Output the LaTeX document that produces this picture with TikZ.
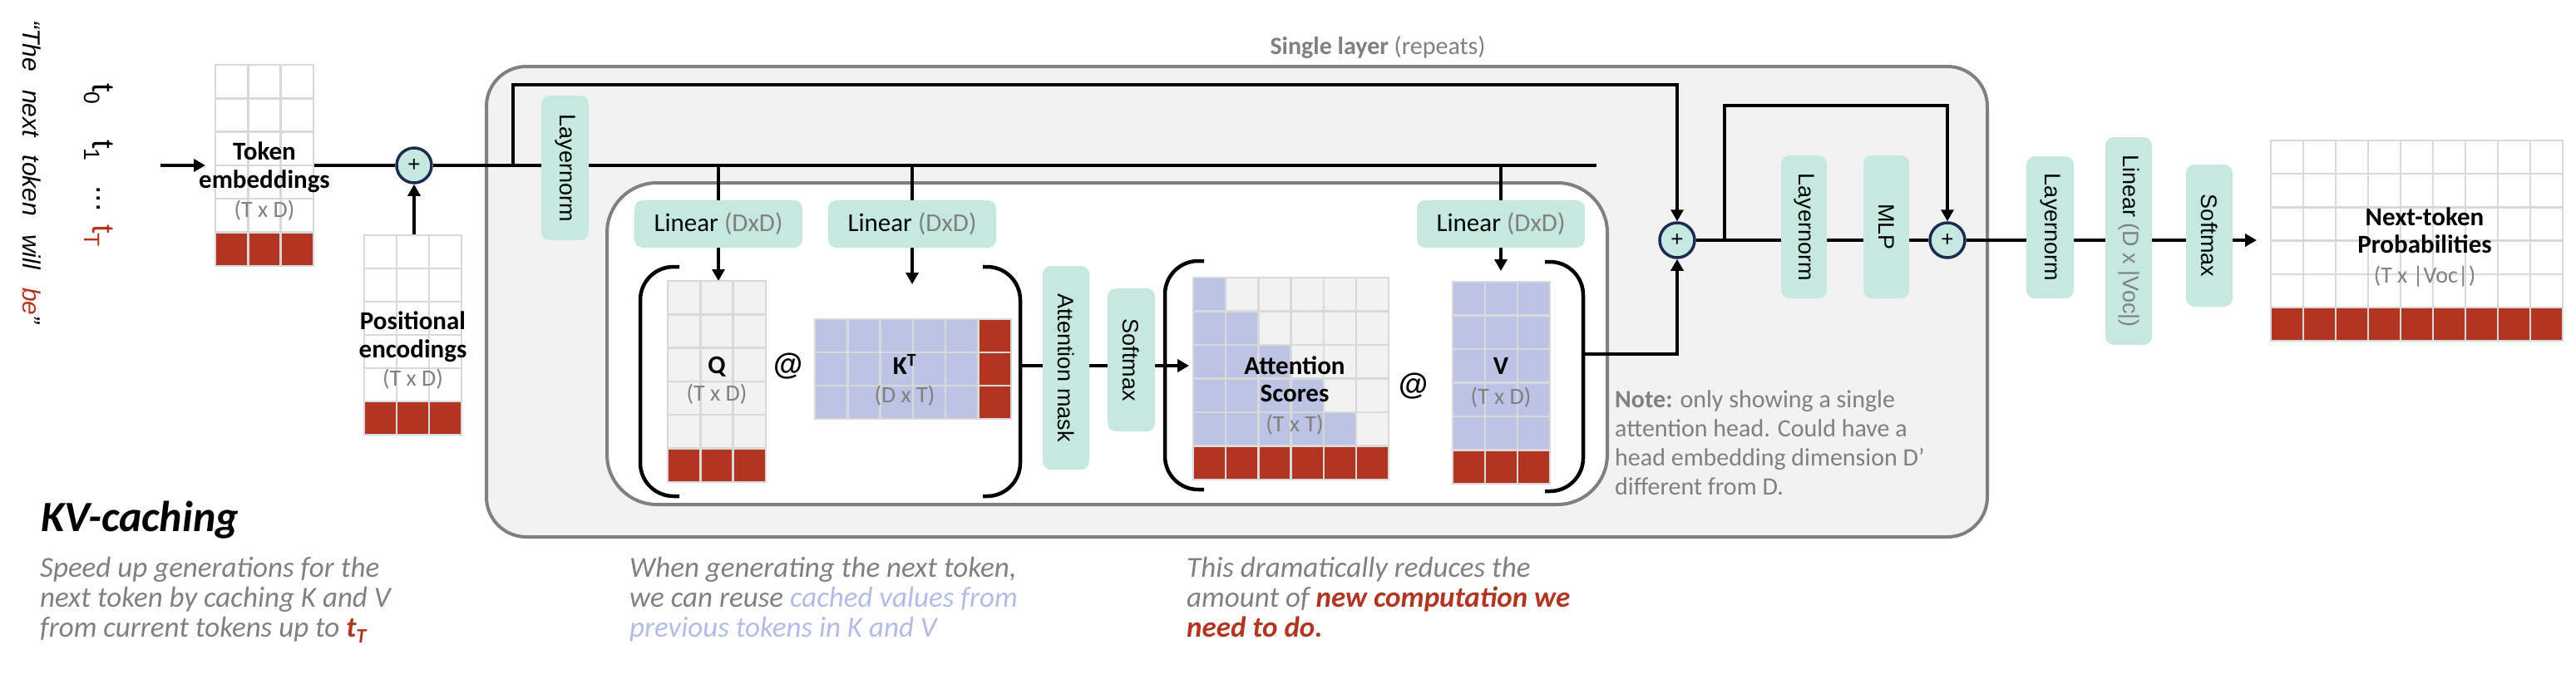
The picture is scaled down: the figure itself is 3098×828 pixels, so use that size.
\documentclass[tikz,border=0pt]{standalone}
\usepackage{fontspec}
\usepackage{graphicx}
\setmainfont{Carlito}
\newfontfamily\arialf{Liberation Sans}
\usetikzlibrary{arrows.meta}
\definecolor{mint}{HTML}{C6E9DF}
\definecolor{lav}{HTML}{BCC3E4}
\definecolor{mred}{HTML}{B23522}
\definecolor{gridc}{HTML}{D9D9D9}
\definecolor{lgray}{HTML}{F2F2F2}
\definecolor{bgray}{HTML}{808080}
\definecolor{navy}{HTML}{1C2B4F}
\definecolor{lavtext}{HTML}{B4BCE6}
\pgfdeclarelayer{bg}\pgfdeclarelayer{lines}
\pgfsetlayers{bg,lines,main}
\newcommand\setfs[2]{\fontsize{#1}{#2}\selectfont}
% x0,y0,ncols,nrows,cw,ch,basecolor ; last row red
\newcommand\drawmat[7]{%
 \foreach \ci in {1,...,#3}{\foreach \ri in {1,...,#4}{%
  \ifnum\ri=#4\relax\def\cellc{mred}\else\def\cellc{#7}\fi
  \filldraw[fill=\cellc,draw=gridc,line width=2.5pt] ({#1+(\ci-1)*#5},{#2+(\ri-1)*#6}) rectangle ++(#5,#6);
 }}}
\begin{document}
\begin{tikzpicture}[x=1pt,y=-1pt,
  conn/.style={line width=4pt},
  arr/.style={line width=4pt,-{Triangle[length=14pt,width=15pt]}},
  box/.style={fill=mint,rounded corners=10pt,inner sep=0pt},
  vbox/.style={box,minimum width=57pt,minimum height=#1,font=\arialf\setfs{27}{30}},
  hbox/.style={box,minimum width=202pt,minimum height=57pt,font=\setfs{31}{34}},
  plus/.style={circle,fill=mint,draw=navy,line width=3.5pt,minimum size=42pt,inner sep=0pt,font=\arialf\setfs{26}{26}},
  matn/.style={inner sep=0pt,outer sep=0pt},
  mlab/.style={anchor=base,font=\setfs{31}{34}\bfseries,inner sep=0pt},
  dlab/.style={anchor=base,font=\setfs{28}{32},text=bgray,inner sep=0pt},
  brk/.style={line width=4.5pt,rounded corners=40pt},
  tt/.style={anchor=north,inner sep=0pt,font=\arialf\setfs{38}{38}},
]
\useasboundingbox (0,0) rectangle (3098,828);

% ---------- region boxes ----------
\begin{pgfonlayer}{bg}
\node[matn,draw=bgray,fill=lgray,line width=4pt,rounded corners=48pt,minimum width=1805pt,minimum height=566pt] (layer) at (1487.5,363) {};
\node[matn,draw=bgray,fill=white,line width=4pt,rounded corners=60pt,minimum width=1203pt,minimum height=387pt] (head) at (1331.5,413.5) {};
\end{pgfonlayer}
\node[anchor=base,text=bgray,font=\setfs{30}{34},inner sep=0pt] (title) at (1657,65) {\textbf{Single layer} (repeats)};

% ---------- left text ----------
\node[inner sep=0pt,font=\arialf\itshape\setfs{30}{30}] (quote) at (38,207) {\rotatebox{-90}{“The\hspace{22pt}next\hspace{22pt}token\hspace{22pt}will\hspace{22pt}\textcolor{mred}{be}”}};
\node[tt] (t0) at (119,100) {\rotatebox{-90}{t\textsubscript{0}}};
\node[tt] (t1) at (119,168) {\rotatebox{-90}{t\textsubscript{1}}};
\node[tt] (tdots) at (119,223) {\rotatebox{-90}{...}};
\node[tt,text=mred] (tT) at (119,270) {\rotatebox{-90}{t\textsubscript{T}}};
\coordinate (in) at (193,199);

% ---------- matrices ----------
\drawmat{259}{78}{3}{6}{39.3}{40.3}{white}
\node[matn,minimum width=118pt,minimum height=242pt] (tok) at (318,199) {};
\node[mlab] (tokl1) at (318,192) {Token};
\node[mlab] (tokl2) at (318,226) {embeddings};
\node[dlab] (tokl3) at (318,261) {(T x D)};

\drawmat{438}{283}{3}{6}{39}{40}{white}
\node[matn,minimum width=117pt,minimum height=240pt] (pos) at (496.5,403) {};
\node[mlab] (posl1) at (496.5,396) {Positional};
\node[mlab] (posl2) at (496.5,430) {encodings};
\node[dlab] (posl3) at (496.5,464) {(T x D)};

\drawmat{803}{338}{3}{6}{39.3}{40.3}{lgray}
\node[matn,minimum width=118pt,minimum height=242pt] (Q) at (862,459) {};
\node[mlab] (Ql) at (862,449) {Q};
\node[dlab] (Qd) at (862,482) {(T x D)};

\foreach \ci in {1,...,6}{\foreach \ri in {1,2,3}{%
  \ifnum\ci=6\relax\def\cellc{mred}\else\def\cellc{lav}\fi
  \filldraw[fill=\cellc,draw=gridc,line width=2.5pt] ({980+(\ci-1)*39.3},{384+(\ri-1)*40}) rectangle ++(39.3,40);}}
\node[matn,minimum width=236pt,minimum height=120pt] (KT) at (1098,444) {};
\node[mlab] (KTl) at (1088,450) {K\textsuperscript{T}};
\node[dlab] (KTd) at (1088,484) {(D x T)};

\foreach \ci in {1,...,6}{\foreach \ri in {1,...,6}{%
  \ifnum\ri=6\relax\def\cellc{mred}\else\ifnum\ci>\ri\relax\def\cellc{lgray}\else\def\cellc{lav}\fi\fi
  \filldraw[fill=\cellc,draw=gridc,line width=2.5pt] ({1435+(\ci-1)*39.2},{334+(\ri-1)*40.5}) rectangle ++(39.2,40.5);}}
\node[matn,minimum width=235pt,minimum height=243pt] (attn) at (1552.6,455.5) {};
\node[mlab] (al1) at (1557,450) {Attention};
\node[mlab] (al2) at (1557,483) {Scores};
\node[dlab] (al3) at (1557,519) {(T x T)};

\drawmat{1747}{339}{3}{6}{39}{40.5}{lav}
\node[matn,minimum width=117pt,minimum height=243pt] (V) at (1805.5,460.5) {};
\node[mlab] (Vl) at (1805,450) {V};
\node[dlab] (Vd) at (1805,486) {(T x D)};

\drawmat{2731}{169}{9}{6}{39}{40.2}{white}
\node[matn,minimum width=351pt,minimum height=241pt] (out) at (2906.5,289.6) {};
\node[mlab] (ol1) at (2916,271) {Next-token};
\node[mlab] (ol2) at (2916,304) {Probabilities};
\node[dlab] (ol3) at (2916,340) {(T x |Voc|)};

\node[anchor=center,font=\arialf\bfseries\setfs{36}{36},inner sep=0pt] (at1) at (948,441) {@};
\node[anchor=center,font=\arialf\bfseries\setfs{36}{36},inner sep=0pt] (at2) at (1700,465) {@};

% ---------- operation boxes ----------
\node[plus] (p1) at (498,199) {+};
\node[plus] (p2) at (2017,289) {+};
\node[plus] (p3) at (2342,289) {+};
\node[vbox=174pt] (ln1) at (679.5,202) {\rotatebox{-90}{Layernorm}};
\node[hbox] (linQ) at (864,269.5) {Linear \textcolor{bgray}{(DxD)}};
\node[hbox] (linK) at (1097,269.5) {Linear \textcolor{bgray}{(DxD)}};
\node[hbox] (linV) at (1805,269.5) {Linear \textcolor{bgray}{(DxD)}};
\node[vbox=245pt,minimum width=56pt] (mask) at (1282,442.5) {\rotatebox{-90}{Attention mask}};
\node[vbox=172pt] (sm1) at (1360.5,433) {\rotatebox{-90}{Softmax}};
\node[vbox=172pt,minimum width=55pt] (ln2) at (2169.5,273) {\rotatebox{-90}{Layernorm}};
\node[vbox=172pt,minimum width=55pt] (mlp) at (2268.5,273) {\rotatebox{-90}{MLP}};
\node[vbox=171pt] (ln3) at (2465.5,273.5) {\rotatebox{-90}{Layernorm}};
\node[vbox=250pt,minimum width=56pt] (linO) at (2560,290) {\rotatebox{-90}{Linear \textcolor{bgray}{(D x |Voc|)}}};
\node[vbox=171pt,minimum width=56pt] (sm2) at (2657,283.5) {\rotatebox{-90}{Softmax}};

% ---------- connectors ----------
\coordinate (mainend) at (1920,199);
\coordinate (r1) at (617,199);
\coordinate (r1top) at (617,102);
\coordinate (kend) at (1097,342);
\coordinate (vend) at (1805,326);
\coordinate (b1r) at (1227,440);
\coordinate (b2r) at (1904,426);
\coordinate (r2) at (2074,289);
\coordinate (r2top) at (2074,127);
\begin{pgfonlayer}{lines}
\draw[arr,shorten >=12pt] (in) -- (in -| tok.west);
\draw[conn] (tok.east |- p1) -- (p1.west);
\draw[conn] (p1.east) -- (mainend);
\draw[arr] (p1.south |- pos.north) -- (p1.south);
\draw[arr] (r1) -- (r1top) -| (p2.north);
\draw[conn] (linQ.north |- p1) -- (linQ.north);
\draw[conn] (linK.north |- p1) -- (linK.north);
\draw[conn] (linV.north |- p1) -- (linV.north);
\draw[arr] (linQ.south) -- (linQ.south |- Q.north);
\draw[arr] (linK.south) -- (kend);
\draw[arr] (linV.south) -- (vend);
\draw[arr,shorten >=5pt] (b1r) -- (b1r -| attn.west);
\draw[arr] (b2r) -| (p2.south);
\draw[conn] (p2.east) -- (p3.west);
\draw[arr] (r2) -- (r2top) -| (p3.north);
\draw[arr,shorten >=17pt] (p3.east) -- (p3.east -| out.west);
\end{pgfonlayer}

% ---------- brackets ----------
\draw[brk] (817,321) -- (770,321) -- (770,597) -- (817,597);
\draw[brk] (1182,321) -- (1227,321) -- (1227,597) -- (1182,597);
\draw[brk] (1448,314) -- (1401,314) -- (1401,589) -- (1448,589);
\draw[brk] (1858,315) -- (1904,315) -- (1904,591) -- (1858,591);

% ---------- note ----------
\node[anchor=north west,align=left,text=bgray,font=\setfs{30}{35},inner sep=0pt] (note) at (1942,469) {\textbf{Note:} only showing a single\\attention head. Could have a\\head embedding dimension D’\\different from D.};

% ---------- bottom texts ----------
\node[anchor=base west,font=\setfs{52}{52}\bfseries\itshape,inner sep=0pt] (kv) at (49,639) {KV-caching};
\node[anchor=north west,align=left,inner sep=0pt,text=bgray,font=\setfs{35}{36}\itshape] (d1) at (48,670) {Speed up generations for the\\next token by caching K and V\\from current tokens up to \textcolor{mred}{\bfseries t\textsubscript{T}}};
\node[anchor=north west,align=left,inner sep=0pt,text=bgray,font=\setfs{35}{36}\itshape] (d2) at (757,670) {When generating the next token,\\we can reuse \textcolor{lavtext}{cached values from}\\\textcolor{lavtext}{previous tokens in K and V}};
\node[anchor=north west,align=left,inner sep=0pt,text=bgray,font=\setfs{35}{36}\itshape] (d3) at (1427,670) {This dramatically reduces the\\amount of \textcolor{mred}{\bfseries new computation we}\\\textcolor{mred}{\bfseries need to do.}};
\end{tikzpicture}
\end{document}
